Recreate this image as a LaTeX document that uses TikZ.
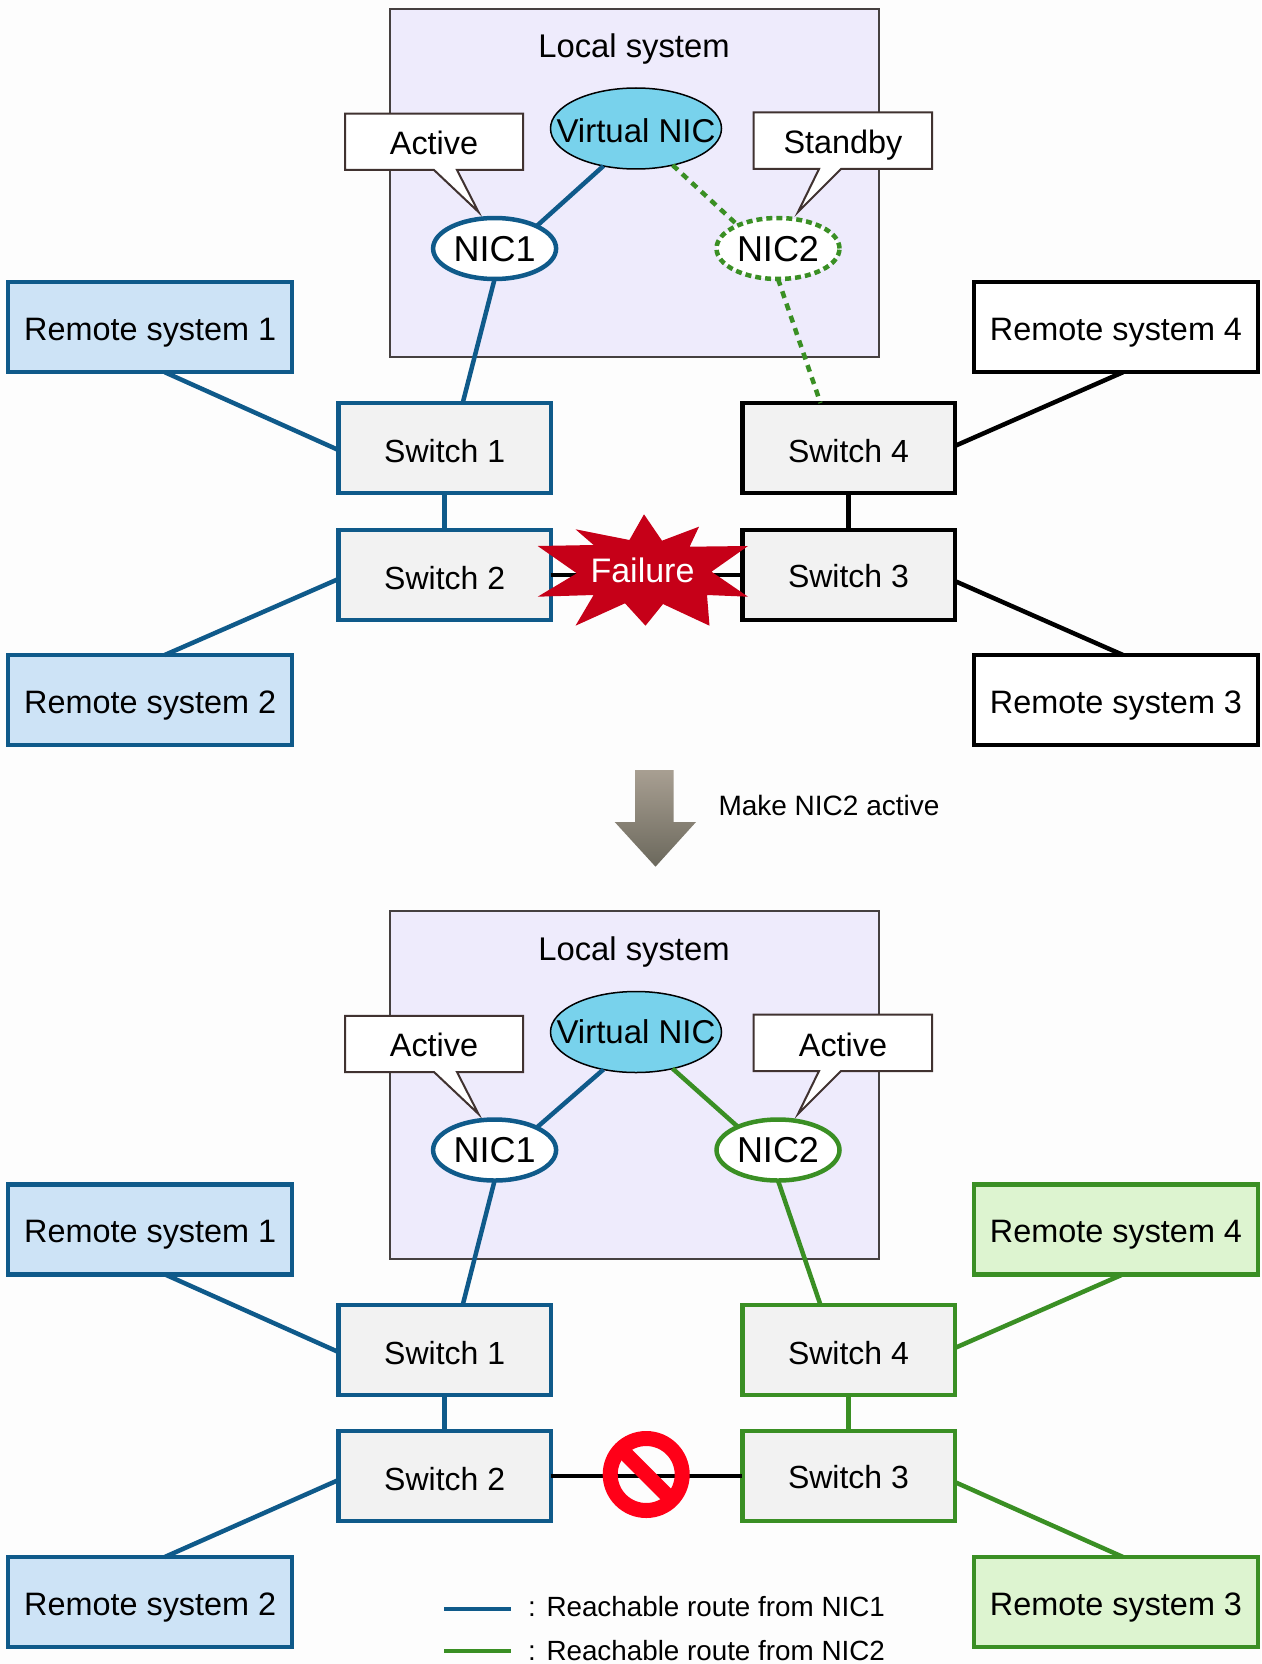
\documentclass[tikz,border=0pt]{standalone}
\usepackage{fontspec}
\setmainfont{Liberation Sans}
\definecolor{blueln}{HTML}{0F5A8A}
\definecolor{bluefl}{HTML}{CDE3F6}
\definecolor{greenln}{HTML}{3A8F24}
\definecolor{greenfl}{HTML}{DDF4D0}
\definecolor{localfl}{HTML}{EEEBFC}
\definecolor{localln}{HTML}{454040}
\definecolor{switchfl}{HTML}{F2F2F2}
\definecolor{vnicfl}{HTML}{78D2EC}
\definecolor{calloutln}{HTML}{403230}
\definecolor{failfl}{HTML}{C60018}
\definecolor{nored}{HTML}{FF0018}
\definecolor{arrowtop}{HTML}{A89F92}
\definecolor{arrowbot}{HTML}{6B685C}
\definecolor{pagebg}{HTML}{FDFDFD}
\newcommand{\fs}[1]{\fontsize{#1}{#1}\selectfont}
\tikzset{
  x=1pt,y=-1pt,
  txt/.style={inner sep=0pt,outer sep=0pt,text height=23pt,text depth=0pt,font=\fs{32.4}},
  localbox/.style={draw=localln,line width=2.2pt,fill=localfl,inner sep=0pt,outer sep=0pt,minimum width=489pt,minimum height=348pt},
  remote/.style={txt,rectangle,line width=4.5pt,text height=27pt,minimum width=284pt,minimum height=90pt},
  switchbox/.style={txt,rectangle,line width=4.5pt,fill=switchfl,text height=28pt,font=\fs{32},minimum width=212.5pt,minimum height=90pt},
  sw2text/.style={text height=29pt},
  sw3text/.style={text height=24pt},
  blueitem/.style={draw=blueln},
  greenitem/.style={draw=greenln},
  blackitem/.style={draw=black},
  vnicshape/.style={txt,ellipse,draw=black,line width=1.5pt,fill=vnicfl,inner xsep=-20pt,minimum width=171pt,minimum height=81pt,font=\fs{33}},
  nicshape/.style={txt,ellipse,line width=4.5pt,fill=white,text height=25pt,inner xsep=-5pt,minimum width=123pt,minimum height=61pt,font=\fs{36}},
  callout/.style={draw=calloutln,line width=2pt,fill=white},
  lnblue/.style={draw=blueln,line width=4.5pt},
  lngreen/.style={draw=greenln,line width=4.5pt},
  lnblack/.style={draw=black,line width=4.5pt},
  dashgreen/.style={draw=greenln,line width=4.5pt,dash pattern=on 7pt off 6pt},
  small/.style={inner sep=0pt,outer sep=0pt,text height=20pt,text depth=0pt,font=\fs{28},anchor=west},
}
\usetikzlibrary{shapes.geometric}
\begin{document}
\begin{tikzpicture}
\useasboundingbox[fill=pagebg] (0,0) rectangle (1261,1664);

% ---------- upper half ----------
\node[localbox] (lsA) at (634.5,183) {};
\node[txt,font=\fs{32.8}] (lsAt) at (634,46.5) {Local system};
\draw[callout] (345,113.6) -- (523,113.6) -- (523,170) -- (457,170) -- (478.5,212) -- (434,170) -- (345,170) -- cycle;
\node[txt] (actA) at (434,143) {Active};
\draw[callout] (753.6,112.5) -- (932,112.5) -- (932,169) -- (841,169) -- (798,212) -- (819,169) -- (753.6,169) -- cycle;
\node[txt] (stbA) at (843,142.5) {Standby};
\node[vnicshape,text height=29pt] (vnA) at (636,128.5) {Virtual NIC};
\node[nicshape,blueitem] (n1A) at (494.6,248.5) {NIC1};
\node[nicshape,draw=greenln,dash pattern=on 6pt off 4pt] (n2A) at (778,248.5) {NIC2};
\node[remote,blueitem,fill=bluefl] (r1A) at (150.2,327.2) {Remote system 1};
\node[remote,blueitem,fill=bluefl] (r2A) at (150.2,700) {Remote system 2};
\node[remote,blackitem,fill=white] (r4A) at (1116,327.2) {Remote system 4};
\node[remote,blackitem,fill=white] (r3A) at (1116,700) {Remote system 3};
\node[switchbox,blueitem] (s1A) at (444.7,448) {Switch 1};
\node[switchbox,blueitem,sw2text] (s2A) at (444.7,575) {Switch 2};
\node[switchbox,blackitem] (s4A) at (848.5,448) {Switch 4};
\node[switchbox,blackitem,sw3text] (s3A) at (848.5,575) {Switch 3};

\draw[lnblue] (vnA.229) -- (n1A.28);
\draw[lnblue] (n1A.south) -- ([xshift=18pt]s1A.north);
\draw[dashgreen] (vnA.-45) -- (n2A.150);
\draw[dashgreen] (n2A.south) -- ([xshift=-28pt]s4A.north);
\draw[lnblue] ([xshift=14.5pt]r1A.south) -- ([yshift=-2pt]s1A.west);
\draw[lnblue] ([xshift=14.5pt]r2A.north) -- ([yshift=-4pt]s2A.west);
\draw[lnblue] (s1A.south) -- (s2A.north);
\draw[lnblack] ([xshift=7pt]r4A.south) -- ([yshift=2pt]s4A.east);
\draw[lnblack] ([xshift=7pt]r3A.north) -- ([yshift=-6pt]s3A.east);
\draw[lnblack] (s4A.south) -- (s3A.north);
\draw[lnblack] (s2A.east) -- (s3A.west);

\fill[failfl] (644,514.3) -- (662,540.7) -- (699,526.7) -- (689.6,546.7) -- (748,546) -- (711.5,571.7) -- (748,596.7) -- (707,595) -- (709.5,625.7) -- (663,604) -- (645.5,625.7) -- (625,603.3) -- (575.5,625.7) -- (593.6,595) -- (537.7,596.7) -- (576.8,573.3) -- (537.7,546) -- (593.6,545) -- (575.5,529.3) -- (629.4,540) -- cycle;
\node[txt,text=white,font=\fs{34}] (failA) at (642.5,571) {Failure};

% ---------- transition arrow ----------
\shade[top color=arrowtop,bottom color=arrowbot] (635,770) -- (673.6,770) -- (673.6,822) -- (696,822) -- (655.5,866.7) -- (614.7,822) -- (635,822) -- cycle;
\node[small] (mk) at (718.5,805) {Make NIC2 active};

% ---------- lower half ----------
\node[localbox] (lsB) at (634.5,1085) {};
\node[txt,font=\fs{32.8}] (lsBt) at (634,949) {Local system};
\draw[callout] (345,1015.8) -- (523,1015.8) -- (523,1072) -- (457,1072) -- (478.5,1114) -- (434,1072) -- (345,1072) -- cycle;
\node[txt] (actB) at (434,1045) {Active};
\draw[callout] (753.6,1014.7) -- (932,1014.7) -- (932,1071) -- (841,1071) -- (798,1114) -- (819,1071) -- (753.6,1071) -- cycle;
\node[txt] (actC) at (843,1045) {Active};
\node[vnicshape] (vnB) at (636,1032) {Virtual NIC};
\node[nicshape,blueitem] (n1B) at (494.6,1150) {NIC1};
\node[nicshape,greenitem] (n2B) at (778,1150) {NIC2};
\node[remote,blueitem,fill=bluefl] (r1B) at (150.2,1229.3) {Remote system 1};
\node[remote,blueitem,fill=bluefl] (r2B) at (150.2,1602) {Remote system 2};
\node[remote,greenitem,fill=greenfl] (r4B) at (1116,1229.3) {Remote system 4};
\node[remote,greenitem,fill=greenfl] (r3B) at (1116,1602) {Remote system 3};
\node[switchbox,blueitem] (s1B) at (444.7,1350) {Switch 1};
\node[switchbox,blueitem,sw2text] (s2B) at (444.7,1476) {Switch 2};
\node[switchbox,greenitem] (s4B) at (848.5,1350) {Switch 4};
\node[switchbox,greenitem,sw3text] (s3B) at (848.5,1476) {Switch 3};

\draw[lnblue] (vnB.229) -- (n1B.28);
\draw[lnblue] (n1B.south) -- ([xshift=18pt]s1B.north);
\draw[lngreen] (vnB.-45) -- (n2B.150);
\draw[lngreen] (n2B.south) -- ([xshift=-28pt]s4B.north);
\draw[lnblue] ([xshift=14.5pt]r1B.south) -- ([yshift=-2pt]s1B.west);
\draw[lnblue] ([xshift=14.5pt]r2B.north) -- ([yshift=-4pt]s2B.west);
\draw[lnblue] (s1B.south) -- (s2B.north);
\draw[lngreen] ([xshift=7pt]r4B.south) -- ([yshift=2pt]s4B.east);
\draw[lngreen] ([xshift=7pt]r3B.north) -- ([yshift=-6pt]s3B.east);
\draw[lngreen] (s4B.south) -- (s3B.north);
\draw[lnblack] (s2B.east) -- (s3B.west);

\node[circle,draw=nored,line width=15pt,minimum size=72pt,inner sep=0pt,outer sep=0pt] (noA) at (646.2,1474.5) {};
\draw[draw=nored,line width=15pt] (noA.135) -- (noA.-45);

% ---------- legend ----------
\coordinate (lg1a) at (444,1609);
\coordinate (lg1b) at (510.6,1609);
\coordinate (lg2a) at (444,1651);
\coordinate (lg2b) at (510.6,1651);
\draw[lnblue] (lg1a) -- (lg1b);
\draw[lngreen] (lg2a) -- (lg2b);
\node[small,font=\fs{27.8}] (lt1) at (528,1606) {:};
\node[small,font=\fs{27.8}] (lt2) at (546.5,1606) {Reachable route from NIC1};
\node[small,font=\fs{27.8}] (lt3) at (528,1650) {:};
\node[small,font=\fs{27.8}] (lt4) at (546.5,1650) {Reachable route from NIC2};
\end{tikzpicture}
\end{document}
